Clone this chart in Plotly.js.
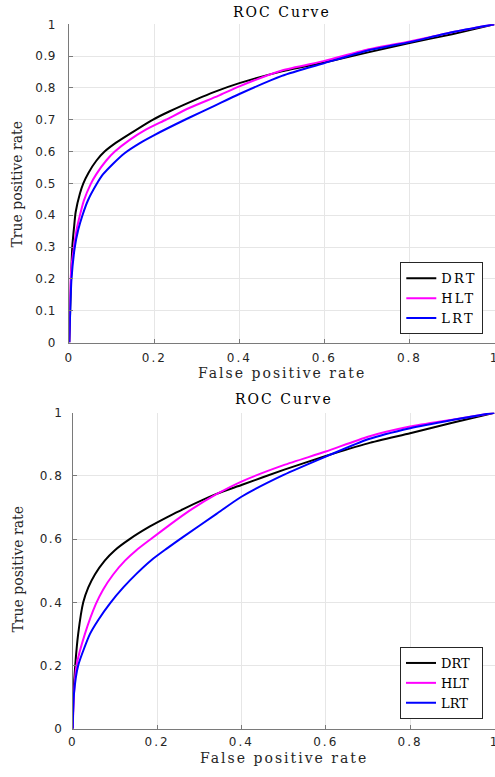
<!DOCTYPE html>
<html>
<head>
<meta charset="utf-8">
<script src="https://cdn.plot.ly/plotly-3.0.1.min.js"></script>
<style>
html,body{margin:0;padding:0;background:#fff;}
#chart{width:495px;height:777px;}
.annotation[data-index="0"] text,
.annotation[data-index="1"] text,
.annotation[data-index="3"] text,
.annotation[data-index="4"] text{letter-spacing:2px;}
text.legendtext{letter-spacing:2.2px !important;}
.xtick text,.x2tick text{letter-spacing:2px;}
.y2tick text{letter-spacing:1.5px;}
.ytick text{letter-spacing:0.5px;}
</style>
</head>
<body>
<div id="chart"></div>
<script>
// ---------- data ----------
var seriesNames = ["DRT", "HLT", "LRT"];
var seriesColors = ["#000000", "#ff00ff", "#0000ff"];

// Top chart
var top_DRT_x = [0, 0.002, 0.004, 0.007, 0.011, 0.015, 0.025, 0.033, 0.045, 0.064, 0.083, 0.11, 0.146, 0.196, 0.235, 0.3, 0.34, 0.4, 0.5, 0.6, 0.7, 0.8, 0.9, 1];
var top_DRT_y = [0, 0.1, 0.197, 0.3, 0.36, 0.41, 0.468, 0.5, 0.533, 0.572, 0.6, 0.628, 0.659, 0.7, 0.726, 0.765, 0.787, 0.815, 0.852, 0.88, 0.911, 0.941, 0.969, 1];

var top_HLT_x = [0, 0.001, 0.003, 0.006, 0.011, 0.017, 0.025, 0.034, 0.05, 0.064, 0.087, 0.107, 0.142, 0.18, 0.227, 0.282, 0.35, 0.4, 0.5, 0.6, 0.7, 0.8, 0.9, 1];
var top_HLT_y = [0, 0.1, 0.197, 0.25, 0.3, 0.354, 0.4, 0.445, 0.497, 0.53, 0.572, 0.6, 0.637, 0.669, 0.7, 0.737, 0.775, 0.805, 0.855, 0.885, 0.92, 0.946, 0.975, 1];

var top_LRT_x = [0, 0.002, 0.005, 0.013, 0.021, 0.031, 0.044, 0.064, 0.079, 0.103, 0.13, 0.165, 0.2, 0.278, 0.34, 0.4, 0.5, 0.6, 0.7, 0.8, 0.9, 1];
var top_LRT_y = [0, 0.092, 0.197, 0.3, 0.354, 0.4, 0.447, 0.497, 0.528, 0.562, 0.595, 0.626, 0.652, 0.704, 0.743, 0.781, 0.838, 0.878, 0.917, 0.944, 0.975, 1];

// Bottom chart
var bot_DRT_x = [0, 0.002, 0.006, 0.013, 0.025, 0.037, 0.053, 0.076, 0.1, 0.135, 0.183, 0.222, 0.262, 0.341, 0.4, 0.5, 0.6, 0.7, 0.8, 0.9, 1];
var bot_DRT_y = [0, 0.111, 0.2, 0.3, 0.4, 0.447, 0.489, 0.532, 0.565, 0.6, 0.64, 0.668, 0.695, 0.743, 0.771, 0.819, 0.863, 0.903, 0.935, 0.968, 1];

var bot_HLT_x = [0, 0.003, 0.009, 0.029, 0.055, 0.072, 0.096, 0.124, 0.151, 0.187, 0.23, 0.277, 0.341, 0.4, 0.5, 0.6, 0.7, 0.8, 0.9, 1];
var bot_HLT_y = [0, 0.111, 0.2, 0.3, 0.395, 0.44, 0.488, 0.532, 0.565, 0.602, 0.645, 0.69, 0.742, 0.782, 0.834, 0.877, 0.924, 0.956, 0.978, 1];

var bot_LRT_x = [0, 0.003, 0.013, 0.041, 0.061, 0.088, 0.12, 0.151, 0.187, 0.222, 0.262, 0.341, 0.4, 0.5, 0.6, 0.7, 0.8, 0.9, 1];
var bot_LRT_y = [0, 0.111, 0.2, 0.3, 0.345, 0.396, 0.447, 0.49, 0.534, 0.569, 0.607, 0.68, 0.734, 0.803, 0.861, 0.916, 0.951, 0.977, 1];

var topYTicks = [0, 0.1, 0.2, 0.3, 0.4, 0.5, 0.6, 0.7, 0.8, 0.9, 1];
var botYTicks = [0, 0.2, 0.4, 0.6, 0.8, 1];
var xTicks = [0, 0.2, 0.4, 0.6, 0.8, 1];

var chartTitle = "ROC Curve";
var xLabel = "False positive rate";
var yLabel = "True positive rate";

// ---------- traces ----------
var topX = [top_DRT_x, top_HLT_x, top_LRT_x];
var topY = [top_DRT_y, top_HLT_y, top_LRT_y];
var botX = [bot_DRT_x, bot_HLT_x, bot_LRT_x];
var botY = [bot_DRT_y, bot_HLT_y, bot_LRT_y];

var traces = [];
for (var i = 0; i < 3; i++) {
  traces.push({
    type: "scatter", mode: "lines", name: seriesNames[i],
    x: topX[i], y: topY[i], xaxis: "x", yaxis: "y", legend: "legend",
    line: {color: seriesColors[i], width: 2, shape: "spline", smoothing: 0.6}
  });
}
for (var j = 0; j < 3; j++) {
  traces.push({
    type: "scatter", mode: "lines", name: seriesNames[j],
    x: botX[j], y: botY[j], xaxis: "x2", yaxis: "y2", legend: "legend2",
    line: {color: seriesColors[j], width: 2, shape: "spline", smoothing: 0.6}
  });
}

var W = 495, H = 777;
function px(x) { return x / W; }
function py(y) { return (H - y) / H; }

var axisCommon = {
  range: [0, 1], showgrid: true, gridcolor: "#e6e6e6", gridwidth: 1,
  zeroline: false, showline: true, linecolor: "#7a7a7a", linewidth: 1,
  ticks: "inside", ticklen: 4, tickcolor: "#7a7a7a", mirror: false,
  tickfont: {family: "DejaVu Sans", size: 12, color: "#262626"},
  ticklabeloverflow: "allow",
  fixedrange: true
};
function ax(extra) { var o = JSON.parse(JSON.stringify(axisCommon)); for (var k in extra) o[k] = extra[k]; return o; }

var serif = "DejaVu Serif";
var layout = {
  width: W, height: H,
  margin: {l: 0, r: 0, t: 0, b: 0},
  paper_bgcolor: "#ffffff", plot_bgcolor: "#ffffff",
  showlegend: true,
  xaxis: ax({domain: [px(69.3), px(494.5)], anchor: "y", tickvals: xTicks, ticklabelstandoff: 4}),
  yaxis: ax({domain: [py(342.5), py(24.3)], anchor: "x", tickvals: topYTicks, ticklabelstandoff: 10}),
  xaxis2: ax({domain: [px(72.7), px(494.5)], anchor: "y2", tickvals: xTicks, ticklabelstandoff: 2}),
  yaxis2: ax({domain: [py(728.7), py(412.7)], anchor: "x2", tickvals: botYTicks, ticklabelstandoff: 6}),
  legend: {
    x: px(483.3), xanchor: "right", y: py(334.3), yanchor: "bottom",
    bgcolor: "#ffffff", bordercolor: "#262626", borderwidth: 1,
    font: {family: serif, size: 13, color: "#000"}, tracegroupgap: 0
  },
  legend2: {
    x: px(483), xanchor: "right", y: py(719), yanchor: "bottom",
    bgcolor: "#ffffff", bordercolor: "#262626", borderwidth: 1,
    font: {family: serif, size: 13, color: "#000"}, tracegroupgap: 0
  },
  annotations: [
    {text: chartTitle, xref: "paper", yref: "paper", x: px(281.9), y: py(11.7), xanchor: "center", yanchor: "middle", showarrow: false, font: {family: serif, size: 14, color: "#000"}},
    {text: xLabel, xref: "paper", yref: "paper", x: px(281.5), y: py(373), xanchor: "center", yanchor: "middle", showarrow: false, font: {family: serif, size: 14, color: "#262626"}},
    {text: yLabel, xref: "paper", yref: "paper", x: px(16.5), y: py(184), xanchor: "center", yanchor: "middle", textangle: -90, showarrow: false, font: {family: serif, size: 14, color: "#262626"}},
    {text: chartTitle, xref: "paper", yref: "paper", x: px(284), y: py(399), xanchor: "center", yanchor: "middle", showarrow: false, font: {family: serif, size: 14, color: "#000"}},
    {text: xLabel, xref: "paper", yref: "paper", x: px(284), y: py(758), xanchor: "center", yanchor: "middle", showarrow: false, font: {family: serif, size: 14, color: "#262626"}},
    {text: yLabel, xref: "paper", yref: "paper", x: px(17.5), y: py(569), xanchor: "center", yanchor: "middle", textangle: -90, showarrow: false, font: {family: serif, size: 14, color: "#262626"}}
  ]
};

Plotly.newPlot("chart", traces, layout, {displayModeBar: false, staticPlot: true});
</script>
</body>
</html>
